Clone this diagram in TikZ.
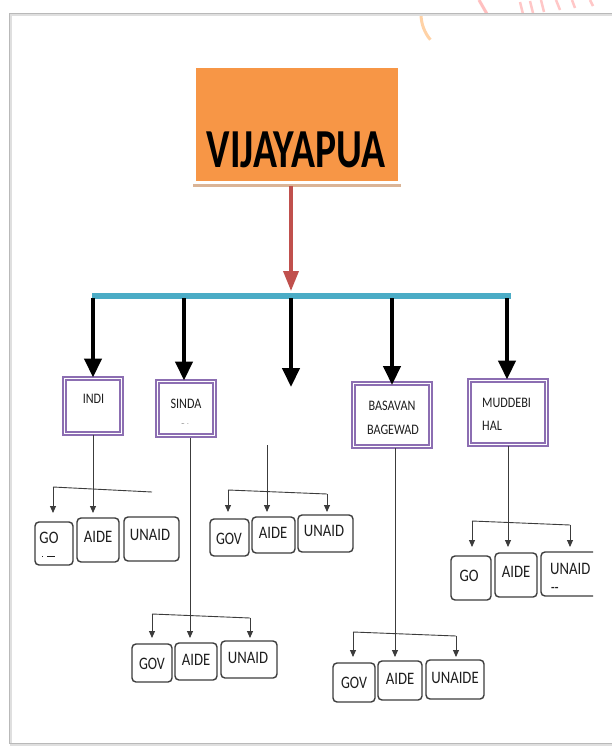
\documentclass[tikz,border=0pt]{standalone}
\usepackage{fontspec}
\usepackage{graphicx}
\setmainfont{Carlito}
\usetikzlibrary{arrows.meta}
\newcommand{\sq}[2][0.84]{\scalebox{#1}[1]{#2}}
\definecolor{orng}{RGB}{247,150,70}
\definecolor{redarr}{RGB}{192,80,77}
\definecolor{bluebar}{RGB}{75,172,198}
\definecolor{purp}{RGB}{140,110,178}
\definecolor{leafline}{RGB}{60,60,60}
\definecolor{txt}{RGB}{30,30,30}
\definecolor{tan}{RGB}{218,180,150}
\tikzset{
  district/.style={draw=purp, double=white, double distance=1.7pt, line width=2pt, fill=white, inner sep=0pt},
  leaf/.style={draw=leafline, line width=1.4pt, rounded corners=4pt, fill=white, inner sep=0pt},
  dtext/.style={font=\fontsize{14.5}{16}\selectfont, text=txt, inner sep=0pt},
  ltext/.style={font=\fontsize{17.5}{19}\selectfont, text=txt, inner sep=0pt},
  barr/.style={line width=4.5pt, -{Triangle[width=17pt,length=19pt]}},
  tline/.style={draw=leafline, line width=0.9pt},
  tarr/.style={draw=leafline, line width=0.9pt, -{Triangle[width=6pt,length=7pt]}},
}
\begin{document}
\begin{tikzpicture}[x=1pt,y=-1pt]
\useasboundingbox (0,0) rectangle (612,747);
\fill[white] (0,0) rectangle (612,747);
% watermark fragments
\draw[orange!35, line width=3pt] (421,14) arc[start angle=180, end angle=140, radius=40];
\draw[red!25, line width=3pt] (479,0) -- (487,14);
\draw[red!22, line width=2.5pt] (520,2) -- (523,14) (530,1) -- (533,13) (541,0) -- (544,12);
\draw[red!22, line width=2.5pt] (556,0) -- (560,10) (572,0) -- (575,8) (590,0) -- (593,6);
% frame
\draw[gray!25, line width=2.5pt] (11,15) rectangle (650,745);
\draw[gray!55, line width=1pt] (9,13) rectangle (650,743);
% top box
\fill[tan] (193,182) rectangle (401,187);
\node[fill=orng, draw=white, line width=3pt, minimum width=205pt, minimum height=116pt, inner sep=0pt] (vij) at (297,124.5) {};
\node[font=\fontsize{55}{60}\selectfont\bfseries, inner sep=0pt, anchor=base] (vijt) at (296,167) {\sq[0.72]{VIJAYAPUA}};
% red arrow and bar
\coordinate (barl) at (92,296);
\coordinate (barr) at (511,296);
\coordinate (redtip) at (291,291);
\draw[redarr, line width=3.5pt, -{Triangle[width=15pt,length=20pt]}] (291,186) -- (redtip);
\draw[bluebar, line width=6pt] (barl) -- (barr);
% districts
\node[district, minimum width=57pt, minimum height=55pt] (indi) at (93,406) {};
\node[dtext] (inditxt) at (93.5,399) {\sq{INDI}};
\node[district, minimum width=57pt, minimum height=54pt] (sinda) at (186,408.5) {};
\begin{scope}
\clip (162,386) rectangle (210,423);
\node[dtext] (sindatxt) at (186,404) {\sq{SINDA}};
\node[dtext] (sindatxt2) at (184,429) {\sq{GI}};
\end{scope}
\node[district, minimum width=77pt, minimum height=63pt] (basavan) at (392,415) {};
\node[dtext] (bastxt1) at (392,406) {\sq{BASAVAN}};
\node[dtext] (bastxt2) at (393,430) {\sq{BAGEWAD}};
\node[district, minimum width=77pt, minimum height=64pt] (mudd) at (508,412.5) {};
\node[dtext, anchor=west] (mudtxt1) at (482,403) {\sq{MUDDEBI}};
\node[dtext, anchor=west] (mudtxt2) at (482,426) {\sq{HAL}};
% thick arrows
\coordinate (s1) at (93,298);
\coordinate (s2) at (184,298);
\coordinate (s3) at (291,298);
\coordinate (s4) at (392,298);
\coordinate (s5) at (507,298);
\coordinate (midtip) at (291,387);
\draw[barr] (s1) -- (s1 |- indi.north);
\draw[barr] (s2) -- (s2 |- sinda.north);
\draw[barr] (s3) -- (midtip);
\draw[barr] (s4) -- (392,385);
\draw[barr] (s5) -- (s5 |- mudd.north);
% ---------- group 1 (INDI)
\node[leaf, minimum width=38pt, minimum height=43pt] (g1a) at (54,543.5) {};
\node[ltext] (g1at) at (49,538) {\sq{GO}};
\draw[txt, line width=1pt] (42,556.5) -- (43,556.5) (47,556.5) -- (55,556.5);
\node[leaf, minimum width=42pt, minimum height=44pt] (g1b) at (98,540) {};
\node[ltext] (g1bt) at (98,537) {\sq{AIDE}};
\node[leaf, minimum width=55pt, minimum height=44pt] (g1c) at (151.5,539) {};
\node[ltext] (g1ct) at (150,535) {\sq{UNAID}};
\coordinate (b1l) at (53,487);
\coordinate (b1r) at (152,492);
\draw[tline] (b1l) -- (b1r);
\draw[tarr] (b1l) -- (53,513);
\draw[tarr] (indi.south) -- (93,513);
% ---------- group 2 (middle)
\coordinate (m2top) at (267,445);
\node[leaf, minimum width=39pt, minimum height=37pt] (g2a) at (229.5,537.5) {};
\node[ltext] (g2at) at (229,539) {\sq[0.8]{GOV}};
\node[leaf, minimum width=43pt, minimum height=36pt] (g2b) at (273.5,535) {};
\node[ltext] (g2bt) at (273,533) {\sq{AIDE}};
\node[leaf, minimum width=55pt, minimum height=37pt] (g2c) at (325.5,533.5) {};
\node[ltext] (g2ct) at (324,531) {\sq{UNAID}};
\coordinate (b2l) at (228,490);
\coordinate (b2r) at (327,494);
\draw[tline] (b2l) -- (b2r);
\draw[tarr] (b2l) -- (228,512);
\draw[tarr] (b2r) -- (327,512);
\draw[tarr] (m2top) -- (267,512);
% ---------- group 3 (MUDDEBIHAL)
\node[leaf, minimum width=40pt, minimum height=44pt] (g3a) at (471,578) {};
\node[ltext] (g3at) at (469,576) {\sq{GO}};
\node[leaf, minimum width=42pt, minimum height=44pt] (g3b) at (516,575) {};
\node[ltext] (g3bt) at (516,572) {\sq{AIDE}};
\begin{scope}
\clip (530,540) rectangle (593,610);
\node[leaf, minimum width=70pt, minimum height=44pt] (g3c) at (576,574) {};
\end{scope}
\node[ltext, anchor=west] (g3ct) at (550,569) {\sq{UNAID}};
\node[ltext, anchor=west, font=\fontsize{12}{13}\selectfont\bfseries] (g3ct2) at (551,589) {-{}-};
\coordinate (b3l) at (472,521);
\coordinate (b3r) at (570,525);
\draw[tline] (b3l) -- (b3r);
\draw[tarr] (b3l) -- (472,547);
\draw[tarr] (b3r) -- (570,547);
\draw[tarr] (mudd.south) -- (508,547);
% ---------- group 4 (SINDAGI)
\node[leaf, minimum width=40pt, minimum height=38pt] (g4a) at (152,663) {};
\node[ltext] (g4at) at (152,664) {\sq[0.8]{GOV}};
\node[leaf, minimum width=42pt, minimum height=37pt] (g4b) at (196,661.5) {};
\node[ltext] (g4bt) at (196,660) {\sq{AIDE}};
\node[leaf, minimum width=56pt, minimum height=37pt] (g4c) at (249,659.5) {};
\node[ltext] (g4ct) at (248,658) {\sq{UNAID}};
\coordinate (b4l) at (152,614);
\coordinate (b4r) at (250,618);
\coordinate (s4top) at (190,437.5);
\draw[tline] (b4l) -- (b4r);
\draw[tarr] (b4l) -- (152,638);
\draw[tarr] (b4r) -- (250,638);
\draw[tarr] (s4top) -- (190,638);
% ---------- group 5 (BASAVAN BAGEWADI)
\node[leaf, minimum width=42pt, minimum height=39pt] (g5a) at (354,682.5) {};
\node[ltext] (g5at) at (354,683) {\sq[0.8]{GOV}};
\node[leaf, minimum width=44pt, minimum height=39pt] (g5b) at (400,680.5) {};
\node[ltext] (g5bt) at (400,679) {\sq{AIDE}};
\node[leaf, minimum width=58pt, minimum height=39pt] (g5c) at (455,679.5) {};
\node[ltext] (g5ct) at (455,678) {\sq{UNAIDE}};
\coordinate (b5l) at (353,632);
\coordinate (b5r) at (456,636);
\draw[tline] (b5l) -- (b5r);
\draw[tarr] (b5l) -- (353,657);
\draw[tarr] (b5r) -- (456,657);
\draw[tarr] (395,448) -- (395,657);
\end{tikzpicture}
\end{document}
